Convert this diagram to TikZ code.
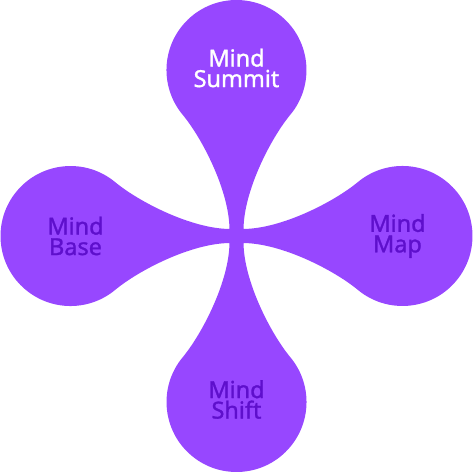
\documentclass[tikz,border=0pt]{standalone}
\usepackage{fontspec}
\setmainfont{Noto Sans}
\newfontfamily\lobefont[FakeBold=1.2]{Noto Sans}

\definecolor{blobfill}{HTML}{9747FF}
\definecolor{labeldark}{HTML}{5E0FCC}

\begin{document}
\begin{tikzpicture}[scale=0.03,
  lobe/.style={font=\lobefont\fontsize{20}{17.5}\selectfont, align=center, text=labeldark}]

  % ==========================================
  % CADRE (dimensions de la figure)
  % ==========================================
  \useasboundingbox (-236.5,-236) rectangle (236.5,236);

  % ==========================================
  % FORME : quatre lobes reliés au centre
  % ==========================================
  \fill[blobfill]
    (7,7) .. controls (7.5,46) and (34.6,98) .. (53.6,121)
    arc[start angle=-40, end angle=220, radius=70]
    .. controls (-34.6,98) and (-7.5,46) .. (-7,7)
    .. controls (-46,7.5) and (-98,34.6) .. (-121,53.6)
    arc[start angle=50, end angle=310, radius=70]
    .. controls (-98,-34.6) and (-46,-7.5) .. (-7,-7)
    .. controls (-7.5,-46) and (-34.6,-98) .. (-53.6,-121)
    arc[start angle=140, end angle=400, radius=70]
    .. controls (34.6,-98) and (7.5,-46) .. (7,-7)
    .. controls (46,-7.5) and (98,-34.6) .. (121,-53.6)
    arc[start angle=230, end angle=490, radius=70]
    .. controls (98,34.6) and (46,7.5) .. (7,7) -- cycle;

  % ==========================================
  % ÉTIQUETTES
  % ==========================================
  \node[lobe, text=white] (summit) at (0,168) {Mind\\Summit};
  \node[lobe] (base)  at (-161,0)  {Mind\\Base};
  \node[lobe] (map)   at (161,0)   {Mind\\Map};
  \node[lobe] (shift) at (0,-163.5) {Mind\\Shift};

\end{tikzpicture}
\end{document}
